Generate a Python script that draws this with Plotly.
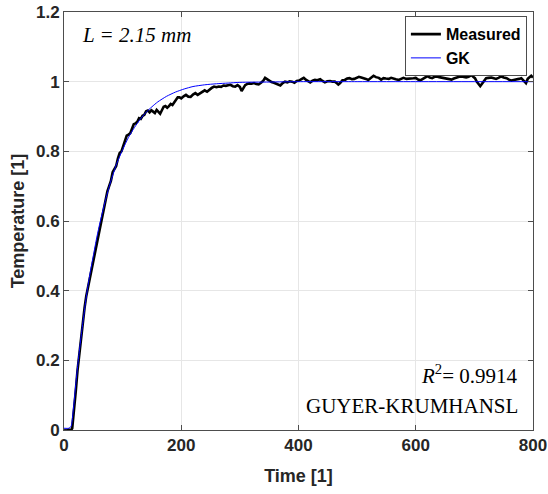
import plotly.graph_objects as go

# ---------------- Data ---------------------------------------------
# Measured temperature (normalised) vs time
MEAS_T = [0, 4, 8, 12, 14, 17, 20, 23, 26, 29, 32, 35, 38, 41, 44, 47, 50, 53, 56, 59,
          62, 65, 68, 71, 74, 77, 80, 83, 86, 89, 92, 95, 98, 101, 104, 107, 110, 113, 116, 119,
          122, 125, 128, 131, 134, 137, 140, 143, 146, 149, 152, 155, 158, 161, 164, 167, 170, 173, 176, 179,
          182, 185, 188, 191, 194, 197, 200, 204, 208, 212, 216, 220, 224, 228, 232, 236, 240, 244, 248, 252,
          256, 260, 264, 268, 272, 276, 280, 284, 288, 292, 296, 300, 303, 306, 309, 312, 316, 320, 324, 328,
          332, 336, 340, 343, 346, 350, 354, 358, 362, 366, 369, 373, 377, 381, 385, 389, 393, 397, 401, 405,
          409, 413, 417, 420, 424, 428, 432, 437, 441, 445, 449, 454, 458, 462, 466, 468, 471, 475, 479, 483,
          487, 491, 495, 499, 503, 507, 511, 515, 519, 523, 528, 532, 537, 541, 545, 549, 554, 558, 562, 566,
          571, 575, 579, 584, 588, 592, 596, 600, 604, 608, 612, 616, 620, 624, 628, 632, 636, 640, 644, 648,
          652, 656, 661, 665, 669, 674, 678, 682, 686, 690, 695, 698, 701, 704, 707, 710, 713, 716, 720, 724,
          729, 733, 737, 741, 746, 750, 755, 759, 763, 767, 772, 776, 780, 784, 788, 791, 794, 797, 800]
MEAS_Y = [0.0, -0.002, 0.001, -0.001, 0.005, 0.05, 0.11, 0.17, 0.22, 0.27, 0.31, 0.35, 0.385, 0.41, 0.44, 0.47, 0.49, 0.52, 0.545, 0.57,
          0.595, 0.62, 0.645, 0.66, 0.685, 0.70, 0.715, 0.74, 0.75, 0.758, 0.78, 0.795, 0.80, 0.815, 0.832, 0.845, 0.848, 0.852, 0.865, 0.878,
          0.88, 0.885, 0.895, 0.893, 0.902, 0.905, 0.915, 0.917, 0.912, 0.918, 0.914, 0.910, 0.919, 0.912, 0.908, 0.918, 0.928, 0.93, 0.925, 0.93,
          0.936, 0.933, 0.94, 0.945, 0.955, 0.955, 0.952, 0.958, 0.962, 0.957, 0.956, 0.963, 0.967, 0.962, 0.967, 0.972, 0.975, 0.971, 0.978, 0.982,
          0.986, 0.984, 0.986, 0.985, 0.989, 0.988, 0.99, 0.991, 0.987, 0.986, 0.99, 0.985, 0.973, 0.98, 0.99, 0.993, 0.995, 0.994, 0.996, 0.993,
          0.992, 0.997, 1.003, 1.011, 1.008, 1.002, 0.999, 0.997, 0.994, 0.99, 0.989, 0.996, 1.0, 0.998, 1.001, 1.0, 0.997, 1.002, 1.003, 1.007,
          1.011, 1.005, 1.0, 0.998, 1.003, 1.005, 1.004, 1.007, 1.002, 0.998, 1.001, 1.002, 1.0, 1.0, 0.995, 0.992, 0.996, 1.004, 1.005, 1.009,
          1.01, 1.007, 1.008, 1.01, 1.014, 1.012, 1.011, 1.008, 1.005, 1.01, 1.017, 1.013, 1.011, 1.006, 1.01, 1.009, 1.008, 1.011, 1.01, 1.007,
          1.005, 1.009, 1.011, 1.008, 1.008, 1.01, 1.01, 1.011, 1.006, 1.004, 1.008, 1.01, 1.016, 1.012, 1.01, 1.014, 1.015, 1.013, 1.012, 1.011,
          1.01, 1.008, 1.006, 1.009, 1.012, 1.014, 1.015, 1.013, 1.012, 1.014, 1.019, 1.014, 1.01, 1.0, 0.992, 0.987, 0.994, 1.0, 1.01, 1.011,
          1.012, 1.01, 1.008, 1.011, 1.015, 1.012, 1.01, 1.006, 1.003, 1.005, 1.006, 1.008, 1.01, 1.004, 0.996, 1.008, 1.013, 1.017, 1.012]

# Guyer-Krumhansl model fit
GK_T = [0, 8, 12, 16, 20, 25, 30, 35, 40, 45, 50, 55, 60, 70, 80, 90, 100, 110, 120, 130,
        140, 150, 160, 175, 190, 205, 220, 240, 260, 280, 300, 350, 400, 500, 600, 700, 800]
GK_Y = [0.005, 0.005, 0.01, 0.06, 0.13, 0.21, 0.28, 0.345, 0.405, 0.455, 0.50, 0.545, 0.585, 0.655, 0.715, 0.765, 0.805, 0.84, 0.868, 0.892,
        0.912, 0.928, 0.942, 0.958, 0.970, 0.979, 0.986, 0.991, 0.994, 0.996, 0.998, 0.999, 1.0, 1.0, 1.0, 1.0, 1.0]

X_TICKS = [0, 200, 400, 600, 800]
Y_TICKS = [0, 0.2, 0.4, 0.6, 0.8, 1, 1.2]

SANS = "Liberation Sans, Arial, sans-serif"
SERIF = "Liberation Serif, Times New Roman, serif"
AX_COLOR = "#262626"
# -------------------------------------------------------------------

fig = go.Figure()

fig.add_trace(go.Scatter(
    x=MEAS_T, y=MEAS_Y, mode="lines", name="Measured",
    line=dict(color="black", width=2.6)
))
fig.add_trace(go.Scatter(
    x=GK_T, y=GK_Y, mode="lines", name="GK",
    line=dict(color="#0000ff", width=1, shape="spline", smoothing=0.6)
))

axis_common = dict(
    showline=True, linecolor="#4d4d4d", linewidth=1, mirror="ticks",
    ticks="inside", ticklen=5, tickcolor="#4d4d4d",
    showgrid=True, gridcolor="#e6e6e6", gridwidth=1,
    zeroline=False, automargin=False,
    tickfont=dict(family=SANS, size=17, color=AX_COLOR, weight="bold"),
)

fig.update_xaxes(
    range=[0, 800], tickvals=X_TICKS,
    title=dict(text="Time [1]", font=dict(family=SANS, size=18, color=AX_COLOR, weight="bold"), standoff=14),
    **axis_common
)
fig.update_yaxes(
    range=[0, 1.2], tickvals=Y_TICKS,
    title=dict(text="Temperature [1]", font=dict(family=SANS, size=18, color=AX_COLOR, weight="bold"), standoff=6),
    **axis_common
)

fig.add_annotation(
    xref="paper", yref="paper", x=0.034, y=0.945, xanchor="left", yanchor="middle",
    text="<i>L = 2.15 mm</i>", showarrow=False,
    font=dict(family=SERIF, size=21, color="black")
)
fig.add_annotation(
    xref="paper", yref="paper", x=0.972, y=0.133, xanchor="right", yanchor="middle",
    text="<i>R</i><sup>2</sup>= 0.9914", showarrow=False,
    font=dict(family=SERIF, size=21, color="black")
)
fig.add_annotation(
    xref="paper", yref="paper", x=0.972, y=0.058, xanchor="right", yanchor="middle",
    text="GUYER-KRUMHANSL", showarrow=False,
    font=dict(family=SERIF, size=21, color="black")
)

fig.update_layout(
    width=548, height=494,
    margin=dict(l=64, r=15, t=12, b=64, autoexpand=False),
    paper_bgcolor="white", plot_bgcolor="white",
    showlegend=True,
    legend=dict(
        x=0.987, y=0.99, xanchor="right", yanchor="top",
        bgcolor="white", bordercolor="#4d4d4d", borderwidth=1,
        font=dict(family=SANS, size=16, color="black", weight="bold"),
        itemwidth=30, tracegroupgap=0,
    ),
)

# drop the page's default body margin so the figure sits at the window corner
fig.write_html("out.html", config={"displayModeBar": False},
               post_script="document.body.style.margin='0px';")
